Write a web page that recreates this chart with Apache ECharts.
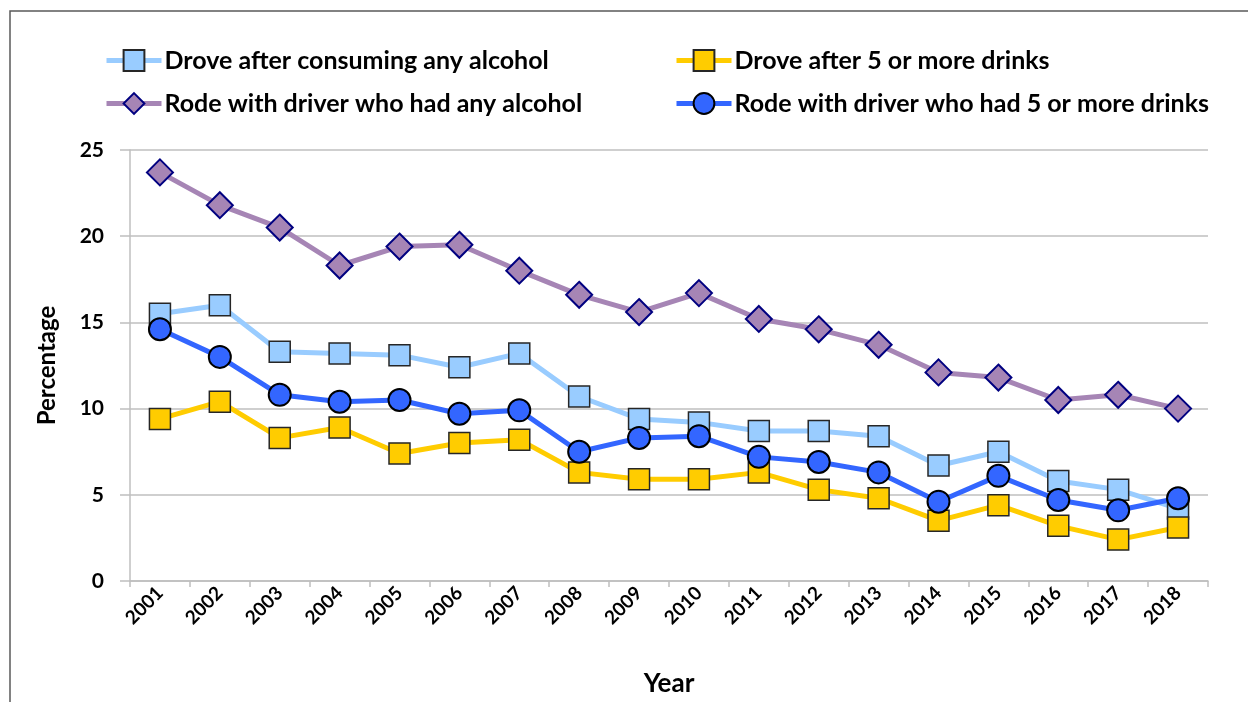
<!DOCTYPE html>
<html>
<head>
<meta charset="utf-8">
<script src="https://cdn.jsdelivr.net/npm/echarts@6/dist/echarts.min.js"></script>
<style>
  html, body { margin: 0; padding: 0; background: #fff; }
  #chart { width: 1248px; height: 702px; }
</style>
</head>
<body>
<div id="chart"></div>
<script>
const years = ['2001', '2002', '2003', '2004', '2005', '2006', '2007', '2008', '2009',
  '2010', '2011', '2012', '2013', '2014', '2015', '2016', '2017', '2018']

const droveAny = [15.5, 16.0, 13.3, 13.2, 13.1, 12.4, 13.2, 10.7, 9.4, 9.2, 8.7, 8.7, 8.4, 6.7, 7.5, 5.8, 5.3, 4.2]
const drove5 = [9.4, 10.4, 8.3, 8.9, 7.4, 8.0, 8.2, 6.3, 5.9, 5.9, 6.3, 5.3, 4.8, 3.5, 4.4, 3.2, 2.4, 3.1]
const rodeAny = [23.7, 21.8, 20.5, 18.3, 19.4, 19.5, 18.0, 16.6, 15.6, 16.7, 15.2, 14.6, 13.7, 12.1, 11.8, 10.5, 10.8, 10.0]
const rode5 = [14.6, 13.0, 10.8, 10.4, 10.5, 9.7, 9.9, 7.5, 8.3, 8.4, 7.2, 6.9, 6.3, 4.6, 6.1, 4.7, 4.1, 4.8]

const yTicks = [0, 5, 10, 15, 20, 25]

const font = 'Lato, "Open Sans", sans-serif'

const myChart = echarts.init(document.getElementById('chart'))

const legendText = {
  fontFamily: font,
  fontWeight: 'bold',
  fontSize: 25,
  color: '#000',
  padding: [0, 0, 0, -2]
}

const legendBase = {
  orient: 'vertical',
  top: 48,
  padding: 0,
  itemWidth: 55,
  itemHeight: 26,
  itemGap: 18,
  lineStyle: { width: 5 },
  textStyle: legendText
}

const option = {
  animation: false,
  backgroundColor: '#fff',
  graphic: [
    {
      type: 'polyline',
      shape: { points: [[10, 702], [10, 11], [1248, 11]] },
      style: { stroke: '#595959', lineWidth: 1.5, fill: null }
    }
  ],
  legend: [
    Object.assign({}, legendBase, {
      data: ['Drove after consuming any alcohol', 'Rode with driver who had any alcohol'],
      left: 104
    }),
    Object.assign({}, legendBase, {
      data: ['Drove after 5 or more drinks', 'Rode with driver who had 5 or more drinks'],
      left: 674
    })
  ],
  grid: {
    left: 130,
    right: 40,
    top: 150,
    bottom: 120
  },
  xAxis: {
    type: 'category',
    data: years,
    boundaryGap: true,
    name: 'Year',
    nameLocation: 'middle',
    nameGap: 90,
    nameTextStyle: { fontFamily: font, fontWeight: 'bold', fontSize: 26, color: '#000' },
    axisLine: { lineStyle: { color: '#bfbfbf', width: 1.5 } },
    axisTick: { show: true, length: 6, lineStyle: { color: '#bfbfbf', width: 1.5 } },
    axisLabel: {
      rotate: 45,
      margin: 9,
      fontFamily: font,
      fontWeight: 'bold',
      fontSize: 19,
      color: '#000'
    }
  },
  yAxis: {
    type: 'value',
    min: yTicks[0],
    max: yTicks[yTicks.length - 1],
    interval: 5,
    name: 'Percentage',
    nameLocation: 'middle',
    nameGap: 71,
    nameTextStyle: { fontFamily: font, fontWeight: 'bold', fontSize: 24, color: '#000' },
    axisLine: { show: true, lineStyle: { color: '#bfbfbf', width: 1.5 } },
    axisTick: { show: true, length: 10, lineStyle: { color: '#bfbfbf', width: 1.5 } },
    axisLabel: {
      margin: 26,
      fontFamily: font,
      fontWeight: 'bold',
      fontSize: 21,
      color: '#000'
    },
    splitLine: { lineStyle: { color: '#bfbfbf', width: 1.5 } }
  },
  series: [
    {
      name: 'Drove after consuming any alcohol',
      type: 'line',
      data: droveAny,
      symbol: 'rect',
      symbolSize: 21,
      color: '#99ccff',
      lineStyle: { color: '#99ccff', width: 5 },
      itemStyle: { color: '#99ccff', borderColor: '#262626', borderWidth: 1.5 },
      z: 2
    },
    {
      name: 'Drove after 5 or more drinks',
      type: 'line',
      data: drove5,
      symbol: 'rect',
      symbolSize: 21,
      color: '#ffcc00',
      lineStyle: { color: '#ffcc00', width: 5 },
      itemStyle: { color: '#ffcc00', borderColor: '#262626', borderWidth: 1.5 },
      z: 3
    },
    {
      name: 'Rode with driver who had any alcohol',
      type: 'line',
      data: rodeAny,
      symbol: 'diamond',
      symbolSize: 26,
      color: '#a685b5',
      lineStyle: { color: '#a685b5', width: 5 },
      itemStyle: { color: '#a685b5', borderColor: '#000080', borderWidth: 2 },
      z: 4
    },
    {
      name: 'Rode with driver who had 5 or more drinks',
      type: 'line',
      data: rode5,
      symbol: 'circle',
      symbolSize: 22,
      color: '#3366ff',
      lineStyle: { color: '#3366ff', width: 5 },
      itemStyle: { color: '#3366ff', borderColor: '#000', borderWidth: 2 },
      z: 5
    }
  ]
}

myChart.setOption(option)
</script>
</body>
</html>
